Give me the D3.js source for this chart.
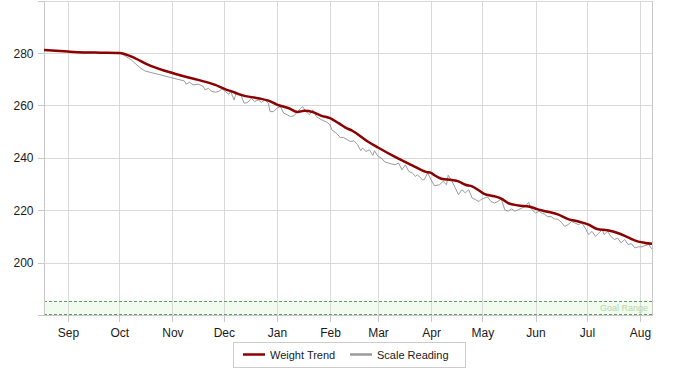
<!DOCTYPE html>
<html>
<head>
<meta charset="utf-8">
<script src="https://cdn.jsdelivr.net/npm/d3@7/dist/d3.min.js"></script>
<style>
  html, body { margin: 0; padding: 0; background: #fff; }
  svg { display: block; font-family: "Liberation Sans", Arial, sans-serif; }
</style>
</head>
<body>
<svg id="chart" width="700" height="380"></svg>
<script>
// ---- data ----
const xDomain = ["2012-08-18", "2013-08-08"];
const yTicks = [180, 200, 220, 240, 260, 280, 300];
const yLabelled = [200, 220, 240, 260, 280];
const goalRange = [180.4, 185.3];
const seriesNames = ["Weight Trend", "Scale Reading"];

const trendDates = ["2012-08-18","2012-08-25","2012-09-01","2012-09-10","2012-09-20","2012-10-01","2012-10-10","2012-10-18","2012-10-28","2012-11-06","2012-11-16","2012-11-26","2012-12-02","2012-12-07","2012-12-11","2012-12-21","2012-12-27","2013-01-01","2013-01-08","2013-01-13","2013-01-17","2013-01-22","2013-01-27","2013-02-01","2013-02-06","2013-02-10","2013-02-14","2013-02-23","2013-03-01","2013-03-11","2013-03-21","2013-03-29","2013-04-01","2013-04-03","2013-04-07","2013-04-13","2013-04-17","2013-04-21","2013-04-25","2013-04-29","2013-05-02","2013-05-08","2013-05-12","2013-05-16","2013-05-22","2013-05-28","2013-06-02","2013-06-06","2013-06-14","2013-06-20","2013-06-26","2013-07-02","2013-07-07","2013-07-13","2013-07-19","2013-07-25","2013-07-31","2013-08-04","2013-08-08"];
const trendValues = [281.1,280.8,280.5,280.2,280.1,280.0,278.0,275.4,273.1,271.4,269.7,267.8,266.1,265.0,264.0,262.7,261.8,260.3,258.9,257.5,257.9,257.4,256.0,255.1,253.2,251.5,250.3,246.2,243.9,240.3,237.1,234.6,234.2,233.3,232.0,231.5,231.0,229.7,229.1,227.5,226.2,225.3,224.4,222.7,221.8,221.4,220.4,219.7,218.4,216.6,215.7,214.5,212.8,212.3,211.3,209.6,208.0,207.5,207.2];

const scaleDates = ["2012-08-18","2012-09-01","2012-09-20","2012-10-01","2012-10-04","2012-10-08","2012-10-13","2012-10-16","2012-11-08","2012-11-09","2012-11-11","2012-11-13","2012-11-16","2012-11-19","2012-11-20","2012-11-22","2012-11-24","2012-11-26","2012-11-28","2012-11-30","2012-12-02","2012-12-04","2012-12-05","2012-12-07","2012-12-08","2012-12-09","2012-12-11","2012-12-12","2012-12-13","2012-12-15","2012-12-17","2012-12-19","2012-12-21","2012-12-23","2012-12-25","2012-12-27","2012-12-28","2012-12-30","2013-01-01","2013-01-03","2013-01-05","2013-01-07","2013-01-09","2013-01-11","2013-01-13","2013-01-15","2013-01-16","2013-01-18","2013-01-20","2013-01-22","2013-01-24","2013-01-27","2013-01-30","2013-02-01","2013-02-02","2013-02-05","2013-02-07","2013-02-09","2013-02-11","2013-02-13","2013-02-15","2013-02-17","2013-02-19","2013-02-20","2013-02-22","2013-02-24","2013-02-26","2013-02-27","2013-03-01","2013-03-03","2013-03-05","2013-03-07","2013-03-09","2013-03-11","2013-03-13","2013-03-15","2013-03-17","2013-03-19","2013-03-21","2013-03-23","2013-03-24","2013-03-27","2013-03-28","2013-03-30","2013-04-01","2013-04-03","2013-04-06","2013-04-08","2013-04-10","2013-04-11","2013-04-13","2013-04-15","2013-04-17","2013-04-19","2013-04-21","2013-04-23","2013-04-25","2013-04-27","2013-04-29","2013-04-30","2013-05-02","2013-05-04","2013-05-06","2013-05-08","2013-05-10","2013-05-12","2013-05-14","2013-05-16","2013-05-18","2013-05-20","2013-05-22","2013-05-24","2013-05-26","2013-05-28","2013-05-29","2013-06-01","2013-06-03","2013-06-05","2013-06-06","2013-06-08","2013-06-10","2013-06-12","2013-06-14","2013-06-16","2013-06-18","2013-06-20","2013-06-22","2013-06-24","2013-06-26","2013-06-28","2013-06-30","2013-07-02","2013-07-04","2013-07-06","2013-07-08","2013-07-10","2013-07-11","2013-07-13","2013-07-15","2013-07-17","2013-07-19","2013-07-21","2013-07-23","2013-07-25","2013-07-27","2013-07-29","2013-07-31","2013-08-02","2013-08-04","2013-08-06","2013-08-08"];
const scaleValues = [281.1,280.5,280.1,280.0,279.0,277.3,274.4,273.1,269.3,268.1,268.8,267.8,268.1,267.2,265.9,266.5,265.3,265.0,265.3,266.3,265.2,264.2,265.3,262.0,264.4,264.0,264.4,262.1,260.8,261.1,262.7,261.4,262.1,261.1,262.1,260.8,257.6,257.6,258.9,259.5,257.0,256.4,255.7,256.0,257.6,258.9,259.5,257.6,256.4,258.3,255.7,254.5,253.6,252.6,250.7,249.2,247.7,247.7,246.9,246.2,246.5,245.0,242.7,243.7,242.4,243.0,240.9,242.7,240.5,239.9,238.4,238.0,237.6,237.3,238.0,235.4,237.3,234.8,234.2,232.9,233.5,231.6,231.6,234.2,231.6,229.3,229.7,231.0,229.7,233.3,231.3,228.7,225.9,227.8,226.6,227.8,224.6,224.0,223.3,224.0,224.6,225.0,223.3,222.7,223.3,224.3,220.2,219.6,220.5,219.6,220.2,220.8,221.4,223.0,220.8,218.9,219.6,218.7,218.6,217.5,217.6,216.7,216.5,215.4,213.8,214.5,215.7,215.1,214.5,215.1,213.2,210.7,211.9,210.0,211.3,212.6,210.7,211.9,210.0,208.8,209.3,207.5,208.8,206.9,207.2,205.6,206.0,206.0,206.5,206.9,205.2];

// ---- drawing ----
(function () {
const parse = d3.timeParse("%Y-%m-%d");
const trend = trendDates.map((d, i) => ({ date: parse(d), v: trendValues[i] }));
const scale = scaleDates.map((d, i) => ({ date: parse(d), v: scaleValues[i] }));

const pL = 44, pR = 652, pT = 0.5, pB = 315;
const svg = d3.select("#chart");

const x = d3.scaleTime().domain(xDomain.map(parse)).range([pL, pR]);
const y = d3.scaleLinear().domain([180, 300]).range([pB, pT]);
const months = d3.timeMonth.range(d3.timeMonth.ceil(x.domain()[0]), x.domain()[1]);

// goal range band
svg.append("rect")
  .attr("x", pL).attr("width", pR - pL)
  .attr("y", y(goalRange[1])).attr("height", y(goalRange[0]) - y(goalRange[1]))
  .attr("fill", "#f1fbef");

// gridlines
const grid = svg.append("g").attr("shape-rendering", "crispEdges");
grid.selectAll("line.h").data(yTicks).join("line")
  .attr("x1", pL).attr("x2", pR)
  .attr("y1", d => Math.round(y(d)) + 0.5).attr("y2", d => Math.round(y(d)) + 0.5)
  .attr("stroke", "#d9d9d9");
grid.selectAll("line.v").data(months).join("line")
  .attr("x1", d => Math.round(x(d)) + 0.5).attr("x2", d => Math.round(x(d)) + 0.5)
  .attr("y1", pT).attr("y2", pB)
  .attr("stroke", "#d9d9d9");

// goal dashed lines
svg.selectAll("line.goal").data(goalRange).join("line")
  .attr("x1", pL).attr("x2", pR)
  .attr("y1", d => Math.round(y(d)) + 0.5).attr("y2", d => Math.round(y(d)) + 0.5)
  .attr("stroke", "#5e9e5e").attr("stroke-dasharray", "3,2")
  .attr("shape-rendering", "crispEdges");
svg.append("text")
  .attr("x", pR - 4).attr("y", y(goalRange[0]) - 2.5)
  .attr("text-anchor", "end").attr("font-size", 9).attr("fill", "#b8d6a8")
  .text("Goal Range");

// right border
svg.append("line").attr("x1", pR + 0.5).attr("x2", pR + 0.5)
  .attr("y1", pT).attr("y2", pB)
  .attr("stroke", "#c8c8c8").attr("shape-rendering", "crispEdges");

// axes
const yAxis = d3.axisLeft(y).tickValues(yTicks).tickSize(7).tickPadding(4)
  .tickFormat(d => yLabelled.includes(d) ? d : "");
const gy = svg.append("g").attr("transform", `translate(${pL + 0.5},0)`).call(yAxis);
const xAxis = d3.axisBottom(x).tickValues(months).tickSize(6).tickPadding(7)
  .tickFormat(d3.timeFormat("%b"));
const gx = svg.append("g").attr("transform", `translate(0,${pB + 0.5})`).call(xAxis);
[gx, gy].forEach(g => {
  g.select(".domain").attr("stroke", "#c8c8c8").attr("shape-rendering", "crispEdges");
  g.selectAll(".tick line").attr("stroke", "#c8c8c8").attr("shape-rendering", "crispEdges");
  g.selectAll(".tick text").attr("fill", "#1a1a1a").attr("font-size", 12)
    .attr("font-family", '"Liberation Sans", Arial, sans-serif');
});
gx.select(".domain").attr("d", `M${pL},0H${pR + 1}`);
gy.select(".domain").attr("d", `M0,${pT}V${pB}`);
gy.selectAll(".tick text").attr("dy", "0.34em");
gx.selectAll(".tick text").attr("dy", "0.71em");

// clip
svg.append("clipPath").attr("id", "plot").append("rect")
  .attr("x", pL).attr("y", pT).attr("width", pR - pL + 1).attr("height", pB - pT);

// series lines
const lineGen = d3.line().x(d => x(d.date)).y(d => y(d.v));
const plot = svg.append("g").attr("clip-path", "url(#plot)");
plot.append("path").datum(scale)
  .attr("d", lineGen)
  .attr("fill", "none").attr("stroke", "#9a9a9a").attr("stroke-width", 1);
plot.append("path").datum(trend)
  .attr("d", lineGen.curve(d3.curveMonotoneX))
  .attr("fill", "none").attr("stroke", "#8b0000").attr("stroke-width", 2.5)
  .attr("stroke-linejoin", "round");

// legend
const lg = svg.append("g");
lg.append("rect").attr("x", 233.5).attr("y", 342.5).attr("width", 232).attr("height", 25)
  .attr("fill", "#fff").attr("stroke", "#cccccc");
const legendItems = [
  { name: seriesNames[0], color: "#8b0000", x: 243 },
  { name: seriesNames[1], color: "#9a9a9a", x: 350 }
];
legendItems.forEach(it => {
  lg.append("line").attr("x1", it.x).attr("x2", it.x + 22).attr("y1", 354.5).attr("y2", 354.5)
    .attr("stroke", it.color).attr("stroke-width", 2.5);
  lg.append("text").attr("x", it.x + 27).attr("y", 358.5)
    .attr("font-size", 11).attr("fill", "#1a1a1a").text(it.name);
});
})();
</script>
</body>
</html>
